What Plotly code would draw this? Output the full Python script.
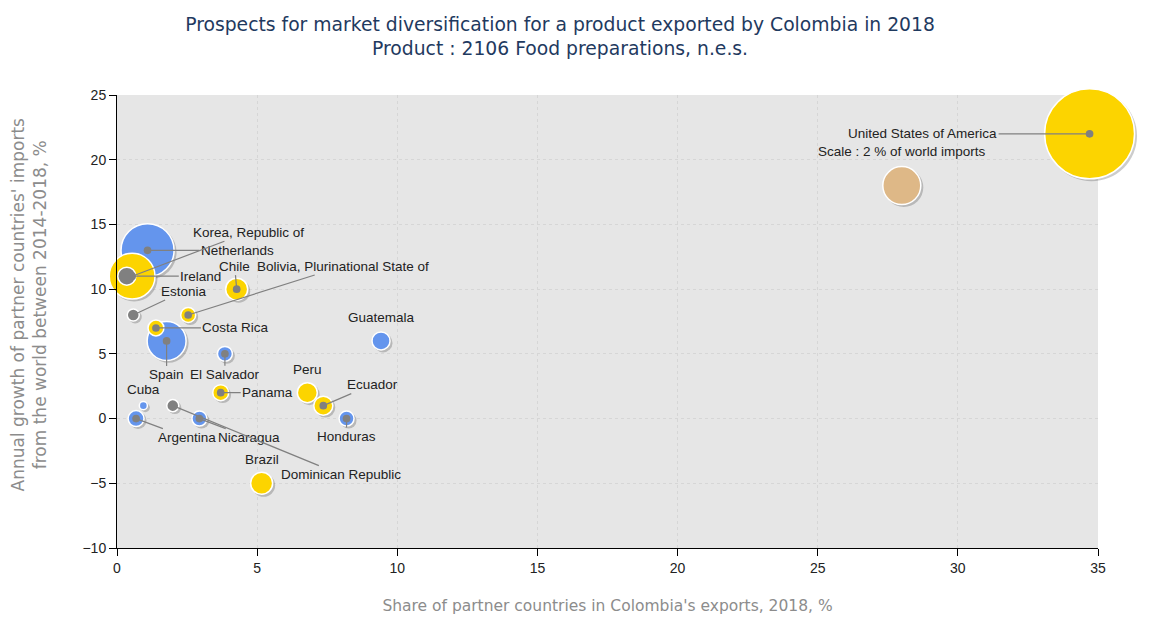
import plotly.graph_objects as go

# partner countries: share in Colombia's exports (%), import growth 2014-2018 (%), share of world imports (%)
countries = ["United States of America", "Netherlands", "Korea, Republic of", "Ireland", "Estonia",
             "Chile", "Bolivia, Plurinational State of", "Costa Rica", "Spain", "El Salvador",
             "Guatemala", "Peru", "Ecuador", "Panama", "Cuba", "Argentina", "Nicaragua",
             "Dominican Republic", "Brazil", "Honduras"]
share_exports = [34.7, 1.09, 0.54, 0.35, 0.58, 4.27, 2.54, 1.39, 1.77, 3.85,
                 9.42, 6.79, 7.36, 3.70, 0.94, 0.68, 2.94, 1.99, 5.16, 8.19]
import_growth = [22, 13, 11, 11, 8, 10, 8, 7, 6, 5,
                 6, 2, 1, 2, 1, 0, 0, 1, -5, 0]
world_share = [11.2, 3.9, 2.9, 0.45, 0.2, 0.67, 0.31, 0.35, 2.1, 0.31,
               0.45, 0.55, 0.5, 0.35, 0.09, 0.35, 0.31, 0.2, 0.67, 0.31]
group = ["yellow", "blue", "yellow", "gray", "gray", "yellow", "yellow", "yellow", "blue", "blue",
         "blue", "yellow", "yellow", "yellow", "blue", "blue", "blue", "gray", "yellow", "blue"]

# scale bubble
scale_x = [28.0]
scale_y = [18]
scale_share = [2]

colors = {"yellow": "#FCD400", "blue": "#6495ED", "gray": "#808080"}

# label placement (pixel offsets from the bubble centre, leader line or not)
label_pos = {
    "United States of America": (-167, 0, True),
    "Netherlands": (90, 0, True),
    "Korea, Republic of": (116, -44, True),
    "Ireland": (74, 0, True),
    "Estonia": (51, -24, True),
    "Chile": (-2, -23, True),
    "Bolivia, Plurinational State of": (155, -49, True),
    "Costa Rica": (80, 0, True),
    "Spain": (0, 34, True),
    "El Salvador": (0, 21, True),
    "Guatemala": (0, -23, False),
    "Peru": (0, -23, False),
    "Ecuador": (49, -21, True),
    "Panama": (47, 0, True),
    "Cuba": (0, -16, False),
    "Argentina": (51, 19, True),
    "Nicaragua": (50, 19, True),
    "Dominican Republic": (168, 69, True),
    "Brazil": (0, -24, False),
    "Honduras": (0, 18, True),
}

X_RANGE = [0, 35]
Y_RANGE = [-10, 25]
PX_X = 981 / 35
PX_Y = 457 / 35


def diam(s):
    return 38 * (s / 2) ** 0.5


# big bubbles first so the small ones stay on top
order = sorted(range(len(countries)), key=lambda i: -world_share[i])
xs = [share_exports[i] for i in order]
ys = [import_growth[i] for i in order]
sizes = [diam(world_share[i]) for i in order]
marker_colors = [colors[group[i]] for i in order]
names = [countries[i] for i in order]

fig = go.Figure()

# empty trace so the main (visible) axes get drawn
fig.add_trace(go.Scatter(x=[], y=[], showlegend=False))

# shadows (slightly shifted overlay axes)
fig.add_trace(go.Scatter(x=xs + scale_x, y=ys + scale_y, mode="markers",
                         marker=dict(size=[d + 1 for d in sizes] + [diam(scale_share[0]) + 1],
                                     color="rgba(0,0,0,0.2)", line=dict(width=0), opacity=1),
                         xaxis="x2", yaxis="y2", hoverinfo="skip", showlegend=False, cliponaxis=False))

fig.add_trace(go.Scatter(x=scale_x, y=scale_y, mode="markers",
                         marker=dict(size=[diam(scale_share[0])], color="#DEB887",
                                     line=dict(width=1.5, color="white"), opacity=1),
                         xaxis="x3", yaxis="y3", showlegend=False, hoverinfo="skip", cliponaxis=False))

fig.add_trace(go.Scatter(x=xs, y=ys, mode="markers", text=names,
                         marker=dict(size=sizes, color=marker_colors, line=dict(width=1.5, color="white"),
                                     opacity=1),
                         xaxis="x3", yaxis="y3", showlegend=False, hoverinfo="text", cliponaxis=False))

label_font = dict(family="Liberation Sans, Arial", size=13.5, color="#222")
for name, x, y in zip(countries, share_exports, import_growth):
    ax, ay, line = label_pos[name]
    if line:
        fig.add_annotation(x=x, y=y, xref="x3", yref="y3", text=name, showarrow=True,
                           ax=ax, ay=ay, arrowhead=6, arrowsize=1.6, arrowwidth=1.2,
                           arrowcolor="#808080", standoff=0, startstandoff=0,
                           font=label_font, borderpad=1)
    else:
        fig.add_annotation(x=x, y=y, xref="x3", yref="y3", text=name, showarrow=False,
                           yshift=-ay, font=label_font)

fig.add_annotation(x=scale_x[0], y=scale_y[0], xref="x3", yref="y3",
                   text="Scale : 2 % of world imports", showarrow=False, yshift=34, font=label_font)

# y axis title
fig.add_annotation(x=-0.09, y=0.537, xref="paper", yref="paper", xanchor="center", yanchor="middle",
                   text="Annual growth of partner countries' imports<br>from the world between 2014-2018, %",
                   textangle=-90, showarrow=False,
                   font=dict(family="DejaVu Sans", size=17, color="#8c8c8c"))

axis_common = dict(showline=True, linecolor="black", linewidth=1, ticks="outside", ticklen=7,
                   tickcolor="black", tickfont=dict(family="Liberation Sans, Arial", size=14, color="#222"),
                   showgrid=True, gridcolor="#d6d6d6", griddash="dot", gridwidth=1, zeroline=False)

fig.update_layout(
    width=1143, height=616,
    margin=dict(l=109, r=53, t=87, b=72),
    paper_bgcolor="white", plot_bgcolor="#E6E6E6",
    title=dict(text="Prospects for market diversification for a product exported by Colombia in 2018<br>"
                    "Product : 2106 Food preparations, n.e.s.",
               x=0.483, xanchor="center", y=0.9625, yanchor="middle",
               font=dict(family="DejaVu Sans", size=18.75, color="#1F3A5F")),
    xaxis=dict(range=X_RANGE, dtick=5,
               title=dict(text="Share of partner countries in Colombia's exports, 2018, %",
                          font=dict(family="DejaVu Sans", size=15.5, color="#8c8c8c"), standoff=25),
               **axis_common),
    yaxis=dict(range=Y_RANGE, dtick=5, **axis_common),
    xaxis2=dict(range=[X_RANGE[0] - 2 / PX_X, X_RANGE[1] - 2 / PX_X], overlaying="x", visible=False),
    yaxis2=dict(range=[Y_RANGE[0] + 2 / PX_Y, Y_RANGE[1] + 2 / PX_Y], overlaying="y", visible=False),
    xaxis3=dict(range=X_RANGE, overlaying="x", visible=False),
    yaxis3=dict(range=Y_RANGE, overlaying="y", visible=False),
    showlegend=False,
)

fig.write_html("out.html")
